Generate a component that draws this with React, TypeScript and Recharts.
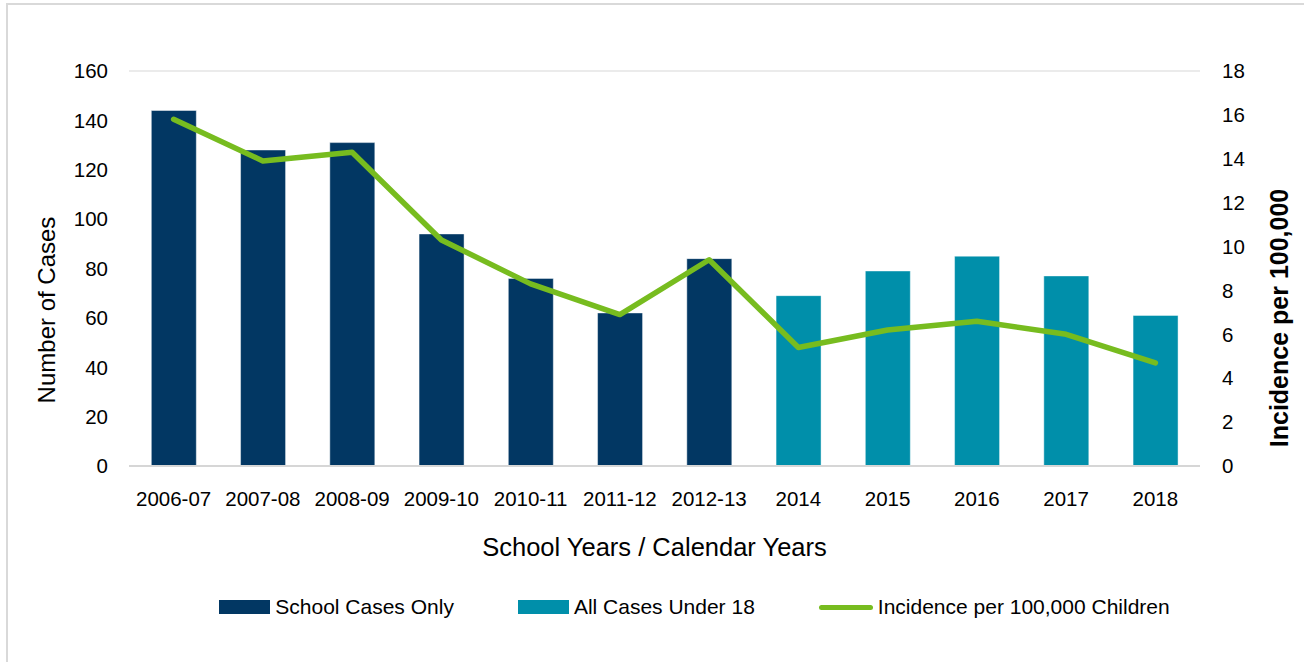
import React from 'react';
import { ComposedChart, Bar, Line, XAxis, YAxis, CartesianGrid, Legend } from 'recharts';

// years: school years first, then calendar years
const categories = ['2006-07', '2007-08', '2008-09', '2009-10', '2010-11', '2011-12', '2012-13', '2014', '2015', '2016', '2017', '2018'];
const schoolCases = [144, 128, 131, 94, 76, 62, 84, null, null, null, null, null];
const allCases = [null, null, null, null, null, null, null, 69, 79, 85, 77, 61];
const incidence = [15.8, 13.9, 14.3, 10.3, 8.3, 6.9, 9.4, 5.4, 6.2, 6.6, 6.0, 4.7];

const leftTicks = [0, 20, 40, 60, 80, 100, 120, 140, 160];
const rightTicks = [0, 2, 4, 6, 8, 10, 12, 14, 16, 18];

const NAVY = '#023763';
const TEAL = '#008FAA';
const GREEN = '#77BC1F';
const FONT = '"Liberation Sans", Arial, sans-serif';

const data = categories.map((c, i) => ({
  year: c,
  school: schoolCases[i],
  all: allCases[i],
  incidence: incidence[i],
}));

const legendItems = [
  { label: 'School Cases Only', color: NAVY, kind: 'rect' },
  { label: 'All Cases Under 18', color: TEAL, kind: 'rect' },
  { label: 'Incidence per 100,000 Children', color: GREEN, kind: 'line' },
];

function ChartLegend() {
  return (
    <div style={{ height: 30, display: 'flex', justifyContent: 'center', alignItems: 'center', fontFamily: FONT, fontSize: 21, color: '#000', paddingLeft: 85 }}>
      {legendItems.map((it, i) => (
        <div key={it.label} style={{ display: 'flex', alignItems: 'center', marginLeft: i === 0 ? 0 : 64 }}>
          {it.kind === 'rect'
            ? <div style={{ width: 51, height: 14, background: it.color }} />
            : <div style={{ width: 54, height: 5, borderRadius: 3, background: it.color }} />}
          <span style={{ marginLeft: 5 }}>{it.label}</span>
        </div>
      ))}
    </div>
  );
}

export default function App() {
  return (
    <div style={{ position: 'absolute', left: 0, top: 0, width: 1304, height: 662, background: '#fff', overflow: 'hidden' }}>
      <div style={{ position: 'absolute', left: 6, top: 3, width: 1400, height: 800, border: '2px solid #d9d9d9' }} />
      <div style={{ position: 'absolute', left: 0, top: 0 }}>
        <ComposedChart width={1304} height={662} data={data} barCategoryGap="25%"
          margin={{ top: 71, right: 0, bottom: 136, left: 0 }}>
          <CartesianGrid vertical={false} stroke="#e4e4e4" strokeWidth={1.5} />
          <XAxis dataKey="year" height={30} tickLine={false} tickSize={0} tickMargin={25}
            axisLine={{ stroke: '#d6d6d6', strokeWidth: 2 }}
            tick={{ fill: '#000', fontSize: 20.5, fontFamily: FONT }}
            label={{
              content: ({ viewBox }: any) => (
                <text x={viewBox.x + viewBox.width / 2 - 10} y={556} textAnchor="middle"
                  fontFamily={FONT} fontSize={25.5} fill="#000">School Years / Calendar Years</text>
              ),
            }} />
          <YAxis yAxisId="left" width={129} domain={[0, 160]} ticks={leftTicks}
            axisLine={false} tickLine={false} tickSize={0} tickMargin={21}
            tick={{ fill: '#000', fontSize: 20.5, fontFamily: FONT }}
            label={{
              content: () => (
                <text x={0} y={0} transform="translate(55,310) rotate(-90)" textAnchor="middle"
                  fontFamily={FONT} fontSize={24} fill="#000">Number of Cases</text>
              ),
            }} />
          <YAxis yAxisId="right" orientation="right" width={104} domain={[0, 18]} ticks={rightTicks}
            axisLine={false} tickLine={false} tickSize={0} tickMargin={22}
            tick={{ fill: '#000', fontSize: 20.5, fontFamily: FONT }}
            label={{
              content: () => (
                <text x={0} y={0} transform="translate(1288,318) rotate(-90)" textAnchor="middle"
                  fontFamily={FONT} fontSize={25} fontWeight="bold" fill="#000">Incidence per 100,000</text>
              ),
            }} />
          <Bar yAxisId="left" dataKey="school" name="School Cases Only" stackId="cases" fill={NAVY}
            stroke="#ffffff" strokeOpacity={0.45} strokeWidth={1} isAnimationActive={false} />
          <Bar yAxisId="left" dataKey="all" name="All Cases Under 18" stackId="cases" fill={TEAL}
            stroke="#ffffff" strokeOpacity={0.45} strokeWidth={1} isAnimationActive={false} />
          <Line yAxisId="right" dataKey="incidence" name="Incidence per 100,000 Children" type="linear"
            stroke={GREEN} strokeWidth={5.5} dot={false} strokeLinejoin="round" strokeLinecap="round"
            isAnimationActive={false} />
          <Legend verticalAlign="bottom" content={() => <ChartLegend />}
            wrapperStyle={{ top: 592, bottom: 'auto', left: 0, width: 1304, height: 30 }} />
        </ComposedChart>
      </div>
    </div>
  );
}
